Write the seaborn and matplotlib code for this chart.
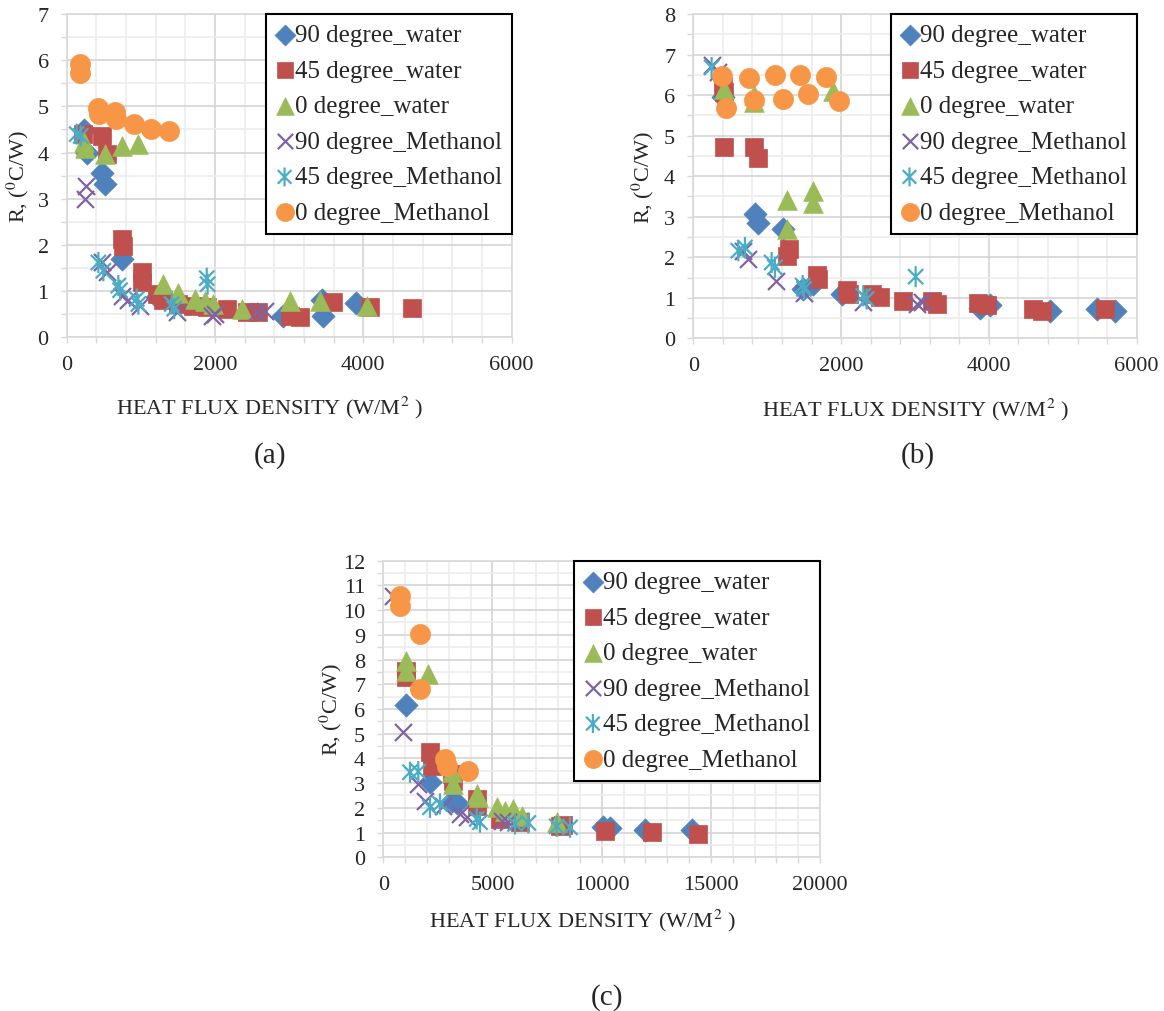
import matplotlib
matplotlib.use('Agg')
import matplotlib.pyplot as plt
from matplotlib.path import Path
from matplotlib.ticker import MultipleLocator
import seaborn as sns

#%%
# Data (heat flux W/m2 vs thermal resistance C/W)
labels = ['90 degree_water', '45 degree_water', '0 degree_water',
          '90 degree_Methanol', '45 degree_Methanol', '0 degree_Methanol']

# (a)
a_w90_x = [230, 270, 472, 516, 741, 1214, 2920, 3440, 3460, 3900]
a_w90_y = [4.48, 4.00, 3.55, 3.32, 1.70, 0.88, 0.47, 0.80, 0.47, 0.74]
a_w45_x = [225, 472, 539, 741, 764, 1011, 1011, 1214, 1300, 1500, 1708, 1888, 2158, 2430, 2584, 3010, 3146, 3596, 4090, 4650]
a_w45_y = [4.40, 4.36, 3.97, 2.13, 1.98, 1.41, 1.19, 0.94, 0.80, 0.72, 0.68, 0.65, 0.61, 0.54, 0.54, 0.47, 0.43, 0.76, 0.65, 0.63]
a_w0_x = [240, 250, 517, 741, 966, 1303, 1506, 1731, 1866, 1977, 2360, 3012, 3416, 4046]
a_w0_y = [4.22, 4.10, 3.97, 4.15, 4.18, 1.15, 0.97, 0.83, 0.79, 0.72, 0.61, 0.79, 0.79, 0.68]
a_m90_x = [260, 247, 472, 539, 741, 830, 989, 1484, 1956, 2000, 2562, 2674]
a_m90_y = [3.28, 2.99, 1.62, 1.41, 0.90, 0.80, 0.68, 0.54, 0.47, 0.50, 0.54, 0.58]
a_m45_x = [135, 189, 427, 494, 696, 720, 944, 966, 1416, 1450, 1888, 1900]
a_m45_y = [4.40, 4.36, 1.62, 1.44, 1.12, 1.02, 0.83, 0.72, 0.72, 0.62, 1.28, 1.15]
a_m0_x = [179, 180, 427, 440, 651, 665, 907, 1141, 1375]
a_m0_y = [5.92, 5.72, 4.96, 4.83, 4.87, 4.72, 4.62, 4.52, 4.47]

# (b)
b_w90_x = [406, 835, 880, 1218, 1489, 1624, 2007, 3880, 4015, 4827, 5458, 5706]
b_w90_y = [5.94, 3.07, 2.84, 2.70, 1.22, 1.34, 1.09, 0.76, 0.81, 0.68, 0.72, 0.68]
b_w45_x = [406, 415, 415, 821, 880, 1263, 1299, 1669, 1692, 2075, 2111, 2413, 2526, 2842, 3225, 3293, 3857, 3970, 4601, 4714, 5571]
b_w45_y = [6.23, 6.07, 4.71, 4.71, 4.46, 2.04, 2.20, 1.55, 1.46, 1.18, 1.09, 1.09, 1.01, 0.93, 0.93, 0.85, 0.87, 0.81, 0.72, 0.68, 0.72]
b_w0_x = [415, 821, 821, 1263, 1263, 1624, 1624, 1886]
b_w0_y = [6.15, 5.99, 5.82, 3.40, 2.70, 3.64, 3.35, 6.11]
b_m90_x = [248, 338, 677, 744, 1119, 1498, 2301, 3022, 3090]
b_m90_y = [6.74, 6.58, 2.16, 1.96, 1.42, 1.13, 0.89, 0.85, 0.89]
b_m45_x = [248, 609, 699, 1060, 1105, 1480, 1498, 2301, 2346, 3009]
b_m45_y = [6.68, 2.16, 2.24, 1.87, 1.75, 1.30, 1.22, 1.05, 0.97, 1.52]
b_m0_x = [383, 442, 749, 826, 1105, 1209, 1448, 1556, 1795, 1976]
b_m0_y = [6.46, 5.67, 6.43, 5.89, 6.50, 5.90, 6.50, 6.03, 6.45, 5.85]

# (c)
c_w90_x = [1038, 2137, 3130, 3359, 10076, 10381, 11984, 14122]
c_w90_y = [6.16, 3.06, 2.29, 2.20, 1.21, 1.17, 1.12, 1.12]
c_w45_x = [1038, 1038, 2137, 2214, 3130, 3206, 4275, 4275, 5344, 6260, 8092, 8244, 10152, 12290, 14427]
c_w45_y = [7.55, 7.28, 4.25, 3.71, 3.37, 3.10, 2.36, 2.09, 1.55, 1.42, 1.28, 1.31, 1.08, 1.01, 0.94]
c_w0_x = [1038, 1038, 2061, 3130, 3206, 4275, 4351, 5191, 5573, 5954, 6336, 7939]
c_w0_y = [7.95, 7.55, 7.42, 3.44, 2.97, 2.56, 2.43, 2.02, 1.89, 1.96, 1.69, 1.42]
c_m90_x = [458, 916, 1603, 1908, 2748, 3511, 3817, 5420, 5725]
c_m90_y = [10.58, 5.08, 2.97, 2.29, 2.09, 1.75, 1.62, 1.48, 1.42]
c_m45_x = [1221, 1603, 2137, 2595, 4275, 4428, 6030, 6641, 7939, 8550]
c_m45_y = [3.44, 3.47, 2.02, 2.16, 1.55, 1.42, 1.35, 1.39, 1.25, 1.21]
c_m0_x = [763, 763, 1679, 1679, 2824, 2901, 3893]
c_m0_y = [10.56, 10.18, 9.03, 6.81, 3.98, 3.71, 3.51]

#%%
sns.set_style('white')
plt.rcParams['font.family'] = ['Liberation Serif', 'DejaVu Serif']
plt.rcParams['mathtext.fontset'] = 'stix'

colors = ['#4F81BD', '#C0504D', '#9BBB59', '#8064A2', '#4BACC6', '#F79646']
# asterisk like Excel's: vertical bar plus an X
star = Path([(0, -1), (0, 1), (-0.72, -0.72), (0.72, 0.72), (-0.72, 0.72), (0.72, -0.72)],
            [Path.MOVETO, Path.LINETO] * 3)
markers = ['D', 's', '^', 'x', star, 'o']
sizes = [140, 175, 200, 150, 230, 210]

fig = plt.figure(figsize=(11.64, 10.12), dpi=100)
ax_a = fig.add_axes([0.0573, 0.6657, 0.3823, 0.3195])
ax_b = fig.add_axes([0.5956, 0.6647, 0.3809, 0.3205])
ax_c = fig.add_axes([0.3293, 0.1519, 0.3752, 0.2931])

# axes, x lists, y lists, xmax, major x, minor x, ymax, xlabel pos, ylabel pos
panels = [
    (ax_a, [a_w90_x, a_w45_x, a_w0_x, a_m90_x, a_m45_x, a_m0_x],
     [a_w90_y, a_w45_y, a_w0_y, a_m90_y, a_m45_y, a_m0_y], 6000, 2000, 400, 7,
     (0.456, -0.176), (-0.080, 0.5)),
    (ax_b, [b_w90_x, b_w45_x, b_w0_x, b_m90_x, b_m45_x, b_m0_x],
     [b_w90_y, b_w45_y, b_w0_y, b_m90_y, b_m45_y, b_m0_y], 6000, 2000, 400, 8,
     (0.5, -0.176), (-0.084, 0.5)),
    (ax_c, [c_w90_x, c_w45_x, c_w0_x, c_m90_x, c_m45_x, c_m0_x],
     [c_w90_y, c_w45_y, c_w0_y, c_m90_y, c_m45_y, c_m0_y], 20000, 5000, 1000, 12,
     (0.457, -0.168), (-0.090, 0.5)),
]

for ax, xs, ys, xmax, xmaj, xmin, ymax, xlab_pos, ylab_pos in panels:
    for i in range(6):
        if markers[i] == 'x':
            sns.scatterplot(x=xs[i], y=ys[i], ax=ax, marker='x', s=sizes[i], color=colors[i],
                            linewidth=1.6, label=labels[i], zorder=3)
        elif i == 4:
            sns.scatterplot(x=xs[i], y=ys[i], ax=ax, marker=star, s=sizes[i], facecolor='none',
                            edgecolor=colors[i], linewidth=1.6, label=labels[i], zorder=3)
        else:
            sns.scatterplot(x=xs[i], y=ys[i], ax=ax, marker=markers[i], s=sizes[i], color=colors[i],
                            edgecolor=colors[i], linewidth=0.5, label=labels[i], zorder=3)
    ax.set_xlim(0, xmax)
    ax.set_ylim(0, ymax)
    ax.xaxis.set_major_locator(MultipleLocator(xmaj))
    ax.xaxis.set_minor_locator(MultipleLocator(xmin))
    ax.yaxis.set_major_locator(MultipleLocator(1))
    ax.yaxis.set_minor_locator(MultipleLocator(0.5))
    ax.grid(which='major', color='#d4d4d4', linewidth=1.2, zorder=0)
    ax.grid(which='minor', color='#ececec', linewidth=1.2, zorder=0)
    ax.set_axisbelow(True)
    for sp in ax.spines.values():
        sp.set_color('#d9d9d9')
        sp.set_linewidth(1.2)
    ax.tick_params(which='both', direction='out', length=4, width=1, color='#d9d9d9',
                   labelsize=16, pad=9, bottom=True, left=True)
    ax.set_xlabel('HEAT FLUX DENSITY (W/M$^2$ )', fontsize=16)
    ax.xaxis.set_label_coords(*xlab_pos)
    ax.set_ylabel('R, ($^0$C/W)', fontsize=16)
    ax.yaxis.set_label_coords(*ylab_pos)
    leg = ax.legend(loc='upper right', bbox_to_anchor=(1.0, 1.0), borderaxespad=0.0,
                    fontsize=18, frameon=True, fancybox=False, handlelength=0.7,
                    handletextpad=0.05, labelspacing=0.52, borderpad=0.4, markerscale=0.9)
    leg.get_frame().set_edgecolor('black')
    leg.get_frame().set_linewidth(1.5)
    leg.get_frame().set_alpha(1)

fig.text(270 / 1164, 1 - 456 / 1012, '(a)', fontsize=21, ha='center', va='center')
fig.text(918 / 1164, 1 - 456 / 1012, '(b)', fontsize=21, ha='center', va='center')
fig.text(607 / 1164, 1 - 998 / 1012, '(c)', fontsize=21, ha='center', va='center')

fig.savefig('out.png', dpi=100)
